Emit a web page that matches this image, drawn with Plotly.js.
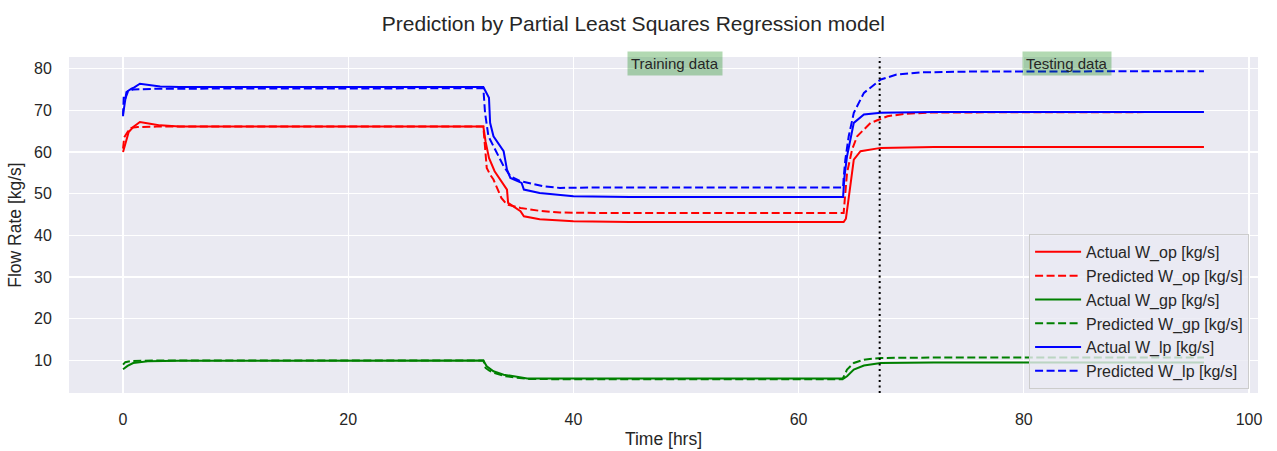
<!DOCTYPE html>
<html>
<head>
<meta charset="utf-8">
<script src="https://cdn.plot.ly/plotly-3.0.1.min.js"></script>
<style>html,body{margin:0;padding:0;background:#fff;}#chart{width:1277px;height:451px;}</style>
</head>
<body>
<div id="chart"></div>
<script>
// ---- Data ----
const seriesNames = ["Actual W_op [kg/s]", "Predicted W_op [kg/s]", "Actual W_gp [kg/s]", "Predicted W_gp [kg/s]", "Actual W_lp [kg/s]", "Predicted W_lp [kg/s]"];

const tActualOp = [0, 0.15, 0.3, 0.5, 0.9, 1.5, 2.4, 3.3, 5, 32.0, 32.2, 32.5, 33.0, 34.1, 34.2, 35.3, 35.6, 37, 40, 45, 64.0, 64.2, 64.4, 64.6, 64.9, 65.5, 67.3, 72, 96];
const vActualOp = [60.0, 61.5, 63.0, 64.8, 66.0, 67.2, 66.8, 66.4, 66.1, 66.1, 62.5, 58.6, 55.4, 51.0, 47.8, 45.8, 44.6, 43.9, 43.4, 43.2, 43.2, 44.0, 48.0, 52.5, 58.2, 60.2, 61.0, 61.2, 61.2];

const tPredOp = [0, 0.1, 0.4, 0.7, 1.3, 3, 32.0, 32.15, 32.3, 32.6, 32.9, 33.6, 34.1, 35.3, 37, 38.8, 42, 64.0, 64.1, 64.3, 64.75, 65.2, 66.4, 67.9, 69.6, 72, 96];
const vPredOp = [60.8, 63.5, 64.8, 65.8, 66.0, 66.1, 66.1, 61.5, 56.2, 54.6, 53.4, 49.0, 47.4, 46.6, 45.9, 45.5, 45.4, 45.4, 48.5, 55.0, 60.6, 63.8, 67.0, 68.6, 69.2, 69.5, 69.6];

const tActualGp = [0, 0.4, 0.9, 2.2, 5, 32.0, 32.3, 32.9, 33.8, 34.7, 35.9, 40, 64.0, 64.3, 64.9, 65.8, 67.3, 72, 96];
const vActualGp = [7.9, 8.7, 9.4, 9.8, 9.95, 10.0, 8.6, 7.4, 6.6, 6.2, 5.7, 5.65, 5.65, 6.2, 7.8, 8.8, 9.4, 9.5, 9.5];

const tPredGp = [0, 0.2, 0.8, 3, 32.0, 32.2, 32.5, 33.0, 34.0, 35.0, 36.0, 40, 63.9, 64.3, 64.9, 65.8, 67.3, 72, 96];
const vPredGp = [9.0, 9.6, 9.9, 10.0, 10.0, 8.2, 7.6, 7.0, 6.2, 5.8, 5.55, 5.5, 5.5, 7.8, 9.4, 10.2, 10.6, 10.7, 10.7];

const tActualLp = [0, 0.1, 0.3, 0.75, 1.0, 1.5, 2.4, 3.3, 5, 32.0, 32.5, 32.6, 32.9, 33.8, 34.1, 34.4, 35.4, 35.6, 37, 40, 45, 63.95, 64.06, 64.3, 64.6, 64.9, 65.8, 67.3, 72, 96];
const vActualLp = [69.0, 71.0, 74.4, 75.2, 75.5, 76.4, 76.0, 75.7, 75.6, 75.6, 73.0, 67.0, 63.8, 60.2, 55.8, 53.8, 52.6, 51.0, 50.2, 49.4, 49.2, 49.2, 53.8, 59.0, 63.0, 67.0, 69.0, 69.4, 69.6, 69.6];

const tPredLp = [0, 0.06, 0.2, 0.45, 0.9, 3, 32.0, 32.15, 32.45, 32.9, 33.8, 34.4, 35.3, 37.3, 38.8, 42, 63.95, 64.0, 64.15, 64.45, 64.9, 65.8, 67.3, 68.7, 70.8, 75, 96];
const vPredLp = [68.6, 73.4, 72.8, 74.6, 75.0, 75.2, 75.3, 69.4, 63.8, 61.4, 56.6, 54.2, 53.0, 51.8, 51.4, 51.5, 51.5, 53.8, 58.2, 63.8, 69.4, 74.2, 77.4, 78.6, 79.1, 79.3, 79.4];

const splitTime = 67.2;
const regionLabels = ["Training data", "Testing data"];
const regionLabelX = [49.0, 83.8];

const xTicks = [0, 20, 40, 60, 80, 100];
const yTicks = [10, 20, 30, 40, 50, 60, 70, 80];

// ---- Build traces ----
const xs = [tActualOp, tPredOp, tActualGp, tPredGp, tActualLp, tPredLp];
const ys = [vActualOp, vPredOp, vActualGp, vPredGp, vActualLp, vPredLp];
const colors = ["#ff0000", "#ff0000", "#008000", "#008000", "#0000ff", "#0000ff"];
const dashes = ["solid", "8px,3.5px", "solid", "8px,3.5px", "solid", "8px,3.5px"];

const traces = seriesNames.map((n, i) => ({
  type: "scatter", mode: "lines", name: n,
  x: xs[i], y: ys[i],
  line: {color: colors[i], width: 2, dash: dashes[i]},
  legendgroup: "g" + i
}));

const FONT = "Liberation Sans, Arial, sans-serif";
const TXT = "#262626";

const layout = {
  width: 1277, height: 451,
  margin: {l: 69, r: 19, t: 57, b: 58, pad: 0},
  paper_bgcolor: "#ffffff",
  plot_bgcolor: "#eaeaf2",
  font: {family: FONT, color: TXT, size: 16},
  title: {text: "Prediction by Partial Least Squares Regression model", font: {size: 21, color: TXT, family: FONT},
          x: 0.496, xref: "container", y: 0.948, yref: "container", yanchor: "middle"},
  xaxis: {
    range: [-4.8, 100.8], tickvals: xTicks, ticktext: xTicks.map(String),
    showgrid: true, gridcolor: "#ffffff", gridwidth: 1.4, zeroline: false, showline: false,
    ticks: "outside", ticklen: 12, tickcolor: "rgba(0,0,0,0)",
    tickfont: {size: 16, color: TXT},
    title: {text: "Time [hrs]", font: {size: 17.5, color: TXT}, standoff: 5}
  },
  yaxis: {
    range: [2.2, 82.8], tickvals: yTicks, ticktext: yTicks.map(String),
    showgrid: true, gridcolor: "#ffffff", gridwidth: 1.4, zeroline: false, showline: false,
    ticks: "outside", ticklen: 13, tickcolor: "rgba(0,0,0,0)",
    tickfont: {size: 16, color: TXT},
    title: {text: "Flow Rate [kg/s]", font: {size: 17.5, color: TXT}, standoff: 7}
  },
  legend: {
    x: 0.9925, xanchor: "right", y: 0.012, yanchor: "bottom",
    bgcolor: "rgba(234,234,242,0.8)", bordercolor: "#cccccc", borderwidth: 1,
    font: {size: 16, color: TXT}, tracegroupgap: 0, itemwidth: 46
  },
  shapes: [{
    type: "line", xref: "x", yref: "paper", x0: splitTime, x1: splitTime, y0: 0, y1: 1,
    line: {color: "#000000", width: 2, dash: "2px,3.5px"}
  }],
  annotations: regionLabels.map((t, i) => ({
    text: t, x: regionLabelX[i], xref: "x", y: 0.982, yref: "paper",
    xanchor: "center", yanchor: "middle", showarrow: false,
    font: {size: 15, color: TXT},
    bgcolor: "rgba(0,128,0,0.3)", borderpad: 3
  }))
};

Plotly.newPlot("chart", traces, layout, {displayModeBar: false, staticPlot: true});
</script>
</body>
</html>
